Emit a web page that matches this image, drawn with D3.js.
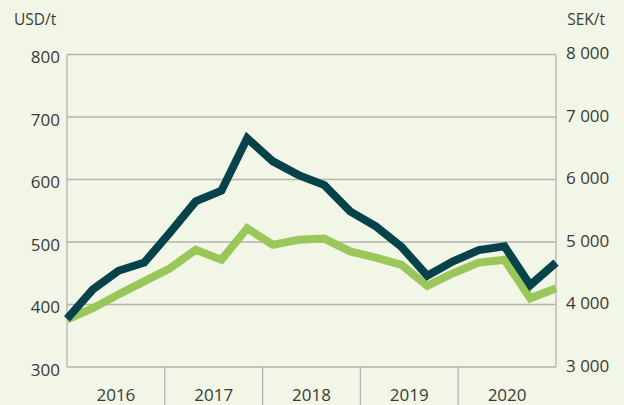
<!DOCTYPE html>
<html>
<head>
<meta charset="utf-8">
<script src="https://cdn.jsdelivr.net/npm/d3@7"></script>
<style>
  body { margin: 0; background: #f2f6e6; }
  svg { display: block; }
  text { font-family: "Open Sans", "Noto Sans", sans-serif; fill: #3a3a3a; }
</style>
</head>
<body>
<div id="chart"></div>
<script>
// Quarterly prices 2016 Q1 - 2020 Q4
const years = ['2016', '2017', '2018', '2019', '2020'];
const usdPerTon = [377, 424, 454, 467, 515, 565, 582, 666, 629, 607,
                   591, 549, 525, 492, 446, 469, 487, 493, 431, 467];
const sekPerTon = [3760, 3940, 4160, 4370, 4580, 4875, 4715, 5220, 4955, 5035,
                   5055, 4850, 4750, 4635, 4300, 4500, 4670, 4715, 4100, 4260];
const usdTicks = [300, 400, 500, 600, 700, 800];
const sekTicks = [3000, 4000, 5000, 6000, 7000, 8000];

const width = 624, height = 405;
const margin = { top: 54.5, right: 68, bottom: 38, left: 67 };
const innerW = width - margin.left - margin.right;
const innerH = height - margin.top - margin.bottom;

const svg = d3.select('#chart')
    .append('svg')
    .attr('width', width)
    .attr('height', height);

svg.append('rect')
    .attr('width', width)
    .attr('height', height)
    .attr('fill', '#f2f6e6');

const g = svg.append('g')
    .attr('transform', `translate(${margin.left},${margin.top})`);

const x = d3.scaleLinear().domain([0, usdPerTon.length - 1]).range([0, innerW]);
const xYear = d3.scaleBand().domain(years).range([0, innerW]);
const yLeft = d3.scaleLinear().domain([300, 800]).range([innerH, 0]);
const yRight = d3.scaleLinear().domain([3000, 8000]).range([innerH, 0]);

const gridColor = '#b3b3b3';

// horizontal grid lines
g.append('g')
    .selectAll('line')
    .data(usdTicks)
    .join('line')
    .attr('x1', 0)
    .attr('x2', innerW)
    .attr('y1', d => yLeft(d))
    .attr('y2', d => yLeft(d))
    .style('stroke', gridColor)
    .style('stroke-width', 1.3);

// frame sides
[0, innerW].forEach(xx => {
    g.append('line')
        .attr('x1', xx).attr('x2', xx)
        .attr('y1', 0).attr('y2', innerH)
        .style('stroke', gridColor)
        .style('stroke-width', 1.3);
});

// year separators below the axis
g.append('g')
    .selectAll('line')
    .data(years.slice(1))
    .join('line')
    .attr('x1', d => xYear(d))
    .attr('x2', d => xYear(d))
    .attr('y1', innerH)
    .attr('y2', height - margin.top)
    .style('stroke', gridColor)
    .style('stroke-width', 1.3);

// year labels
g.append('g')
    .selectAll('text')
    .data(years)
    .join('text')
    .attr('x', d => xYear(d) + xYear.bandwidth() / 2)
    .attr('y', innerH + 34)
    .attr('text-anchor', 'middle')
    .style('font-size', '17px')
    .text(d => d);

// left axis labels
g.append('g')
    .selectAll('text')
    .data(usdTicks)
    .join('text')
    .attr('x', -7)
    .attr('y', d => yLeft(d) + 3)
    .attr('dy', '0.35em')
    .attr('text-anchor', 'end')
    .style('font-size', '17px')
    .text(d => d);

// right axis labels, space as thousands separator
const fmtSek = d => d3.format(',')(d).replace(',', ' ');
g.append('g')
    .selectAll('text')
    .data(sekTicks)
    .join('text')
    .attr('x', innerW + 10)
    .attr('y', d => yRight(d) - 1)
    .attr('dy', '0.35em')
    .attr('text-anchor', 'start')
    .style('font-size', '17px')
    .text(fmtSek);

// unit labels
svg.append('text')
    .attr('x', 14)
    .attr('y', 25)
    .style('font-size', '15.5px')
    .text('USD/t');
svg.append('text')
    .attr('x', 605)
    .attr('y', 25)
    .attr('text-anchor', 'end')
    .style('font-size', '15.5px')
    .text('SEK/t');

// lines
const sekLine = d3.line()
    .x((d, i) => x(i))
    .y(d => yRight(d));
const usdLine = d3.line()
    .x((d, i) => x(i))
    .y(d => yLeft(d));

g.append('path')
    .datum(sekPerTon)
    .attr('d', sekLine)
    .style('fill', 'none')
    .style('stroke', '#9bc75a')
    .style('stroke-width', 8)
    .style('stroke-linejoin', 'miter');

g.append('path')
    .datum(usdPerTon)
    .attr('d', usdLine)
    .style('fill', 'none')
    .style('stroke', '#06424a')
    .style('stroke-width', 8)
    .style('stroke-linejoin', 'miter');
</script>
</body>
</html>
